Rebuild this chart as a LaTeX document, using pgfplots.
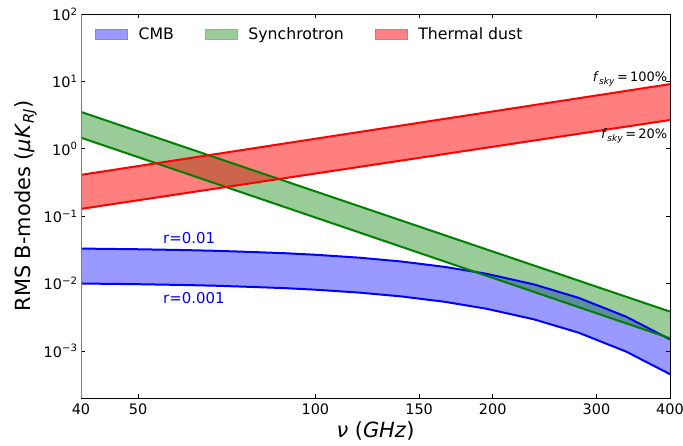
\documentclass[border=0pt]{standalone}
\usepackage{fontspec}
\setmainfont{DejaVu Sans}
\usepackage{pgfplots}
\pgfplotsset{compat=1.18}
\usepgfplotslibrary{fillbetween}
\definecolor{mplgreen}{RGB}{0,128,0}
\begin{document}
\begin{tikzpicture}
\begin{axis}[
  xmode=log, ymode=log,
  scale only axis, width=589bp, height=384bp,
  xmin=40, xmax=400, ymin=2e-4, ymax=100,
  xtick={40,50,100,150,200,300,400},
  xticklabels={40,50,100,150,200,300,400},
  ytick={1e-3,1e-2,1e-1,1,10,100},
  yticklabels={10\textsuperscript{−3},10\textsuperscript{−2},10\textsuperscript{−1},10\textsuperscript{0},10\textsuperscript{1},10\textsuperscript{2}},
  xminorticks=false, yminorticks=false,
  tick align=inside, major tick length=4bp,
  tick style={black, line width=0.6bp},
  axis line style={line width=0.8bp},
  ticklabel style={font=\fontsize{14.5}{17}\selectfont},
  xticklabel style={yshift=-2bp},
  /pgf/number format/assume math mode=true,
  xlabel={\textit{ν} (\textit{GHz})},
  ylabel={RMS B-modes (\textit{μK}\textsubscript{\textit{RJ}})},
  label style={font=\fontsize{21}{25}\selectfont},
  legend columns=3,
  legend style={draw=none, fill=none, at={(0,1)}, anchor=north west,
    xshift=11bp, yshift=-9bp, font=\fontsize{15.8}{19}\selectfont,
    /tikz/every odd column/.append style={column sep=9bp},
    /tikz/every even column/.append style={column sep=29bp}},
  legend image code/.code={\path[#1] (0bp,-5bp) rectangle (32bp,5bp);},
]
\coordinate (bl) at (rel axis cs:0,0);
\coordinate (tr) at (rel axis cs:1,1);
\addlegendimage{fill=blue!40, draw=blue!50}
\addlegendentry{CMB}
\addlegendimage{fill=mplgreen!40, draw=mplgreen!50}
\addlegendentry{Synchrotron}
\addlegendimage{fill=red!50, draw=red!60}
\addlegendentry{Thermal dust}

% CMB
\addplot[blue, line width=2bp, name path=cmbU, forget plot] coordinates {
(40,0.0330)(50,0.03225)(60,0.03136)(68,0.03055)(78,0.02937)(89,0.02814)(100,0.02672)(119,0.02415)(140,0.02121)(166,0.01764)(195,0.01397)(235,0.00970)(280,0.00612)(337,0.00322)(402,0.00145)};
\addplot[blue, line width=2bp, name path=cmbL, forget plot] coordinates {
(40,0.01000)(50,0.00977)(60,0.00950)(68,0.00926)(78,0.00890)(89,0.00853)(100,0.00810)(119,0.00732)(140,0.00643)(166,0.00535)(195,0.00423)(235,0.00294)(280,0.00186)(337,0.000976)(402,0.000441)};
\addplot[fill=blue, fill opacity=0.4, draw=none, forget plot] fill between[of=cmbU and cmbL];

% Synchrotron
\addplot[mplgreen, line width=2bp, name path=synU, forget plot] coordinates {(40,3.52)(400,0.00383)};
\addplot[mplgreen, line width=2bp, name path=synL, forget plot] coordinates {(40,1.46)(400,0.00154)};
\addplot[fill=mplgreen, fill opacity=0.4, draw=none, forget plot] fill between[of=synU and synL];

% Thermal dust
\addplot[red, line width=2bp, name path=dusU, forget plot] coordinates {(40,0.41)(400,9.1)};
\addplot[red, line width=2bp, name path=dusL, forget plot] coordinates {(40,0.128)(400,2.67)};
\addplot[fill=red, fill opacity=0.5, draw=none, forget plot] fill between[of=dusU and dusL];

\draw[gray, line width=1bp] (rel axis cs:0,0) -- (rel axis cs:0,1);

\node[blue, anchor=west, font=\fontsize{15}{18}\selectfont, inner sep=0pt] at (axis cs:55.1,0.0475) {r=0.01};
\node[blue, anchor=west, font=\fontsize{15}{18}\selectfont, inner sep=0pt] at (axis cs:55.1,0.0061) {r=0.001};
\node[anchor=base east, font=\fontsize{13}{15}\selectfont, inner sep=0pt] at (axis cs:396,9.8) {\textit{f}\textsubscript{\textit{sky}}\,=\,100\%};
\node[anchor=base east, font=\fontsize{13}{15}\selectfont, inner sep=0pt] at (axis cs:396,1.40) {\textit{f}\textsubscript{\textit{sky}}\,=\,20\%};
\end{axis}
\pgfresetboundingbox
\path[use as bounding box] ([shift={(-81bp,-48bp)}]bl) rectangle ([shift={(13bp,14bp)}]tr);
\end{tikzpicture}
\end{document}
